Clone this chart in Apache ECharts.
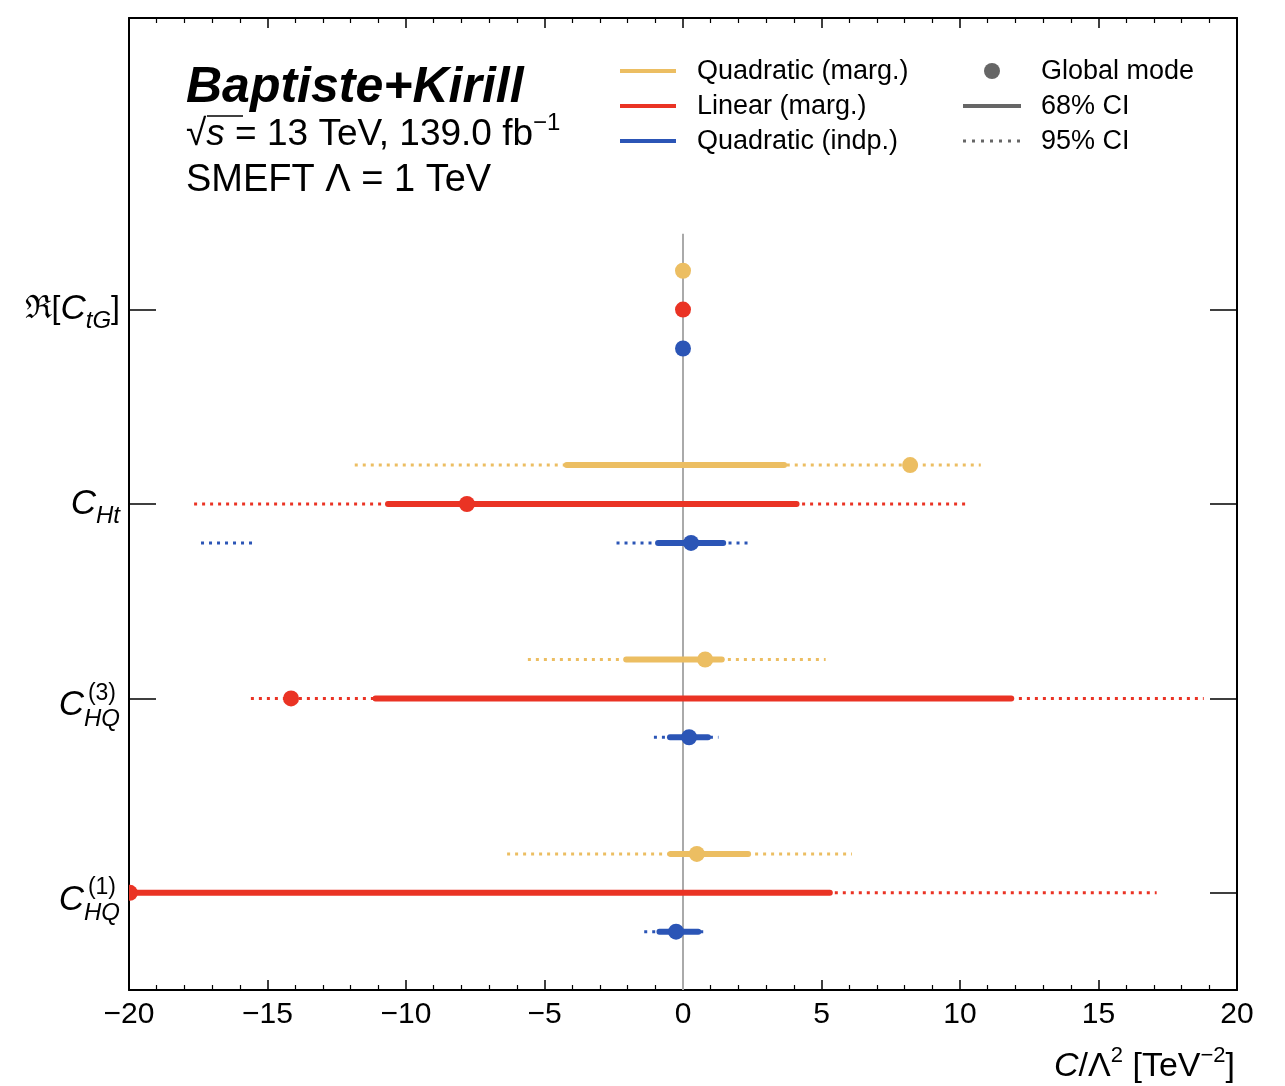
<!DOCTYPE html>
<html>
<head>
<meta charset="utf-8">
<script src="https://cdn.jsdelivr.net/npm/echarts@6/dist/echarts.min.js"></script>
<style>
html, body { margin: 0; background: #fff; }
#chart { width: 1285px; height: 1086px; }
</style>
</head>
<body>
<div id="chart"></div>
<script>
'use strict';

// coefficients, top to bottom
var coeffs = ['CtG', 'CHt', 'CHQ3', 'CHQ1'];

// global modes
var quadMargMode = [0.0, 8.2, 0.8, 0.5];
var linMargMode = [0.0, -7.8, -14.15, -19.97];
var quadIndpMode = [0.0, 0.29, 0.22, -0.25];

// 68% CI  [lo, hi]
var quadMarg68 = [[-0.03, 0.03], [-4.2, 3.65], [-2.05, 1.4], [-0.45, 2.35]];
var linMarg68 = [[-0.03, 0.03], [-10.65, 4.1], [-11.1, 11.85], [-24.0, 5.3]];
var quadIndp68 = [[-0.03, 0.03], [-0.9, 1.45], [-0.47, 0.9], [-0.85, 0.55]];

// 95% CI, can be made of several pieces
var quadMarg95 = [[[-0.06, 0.06]], [[-11.85, 10.75]], [[-5.6, 5.15]], [[-6.35, 6.1]]];
var linMarg95 = [[[-0.06, 0.06]], [[-17.65, 10.35]], [[-15.6, 18.8]], [[-26.0, 17.1]]];
var quadIndp95 = [[[-0.06, 0.06]], [[-17.4, -15.4], [-2.4, 2.4]], [[-1.05, 1.28]], [[-1.4, 0.9]]];

var yellow = '#ecbe62';
var red = '#ea3324';
var blue = '#2b55b6';
var font = '"Liberation Sans", Arial, sans-serif';

// y axis is a category axis, bottom to top, with one empty slot for the legend
var yCats = coeffs.slice().reverse().concat(['']);
function catIndex(i) {
    return coeffs.length - 1 - i;
}

var yLabelText = {
    CtG: '{fr|ℜ[}{c|C}{sub|tG}{fr|]}',
    CHt: '{c|C}{sub|Ht}',
    CHQ3: '{sup|(3)}\n{c2|C}{sub2|HQ}',
    CHQ1: '{sup|(1)}\n{c2|C}{sub2|HQ}'
};

function intervalData(list) {
    var out = [];
    for (var i = 0; i < list.length; i++) {
        out.push([list[i][0], list[i][1], catIndex(i)]);
    }
    return out;
}

function pieceData(list) {
    var out = [];
    for (var i = 0; i < list.length; i++) {
        for (var j = 0; j < list[i].length; j++) {
            out.push([list[i][j][0], list[i][j][1], catIndex(i)]);
        }
    }
    return out;
}

function modeData(list) {
    var out = [];
    for (var i = 0; i < list.length; i++) {
        out.push([list[i], catIndex(i)]);
    }
    return out;
}

function lineSeries(data, color, offset, dotted) {
    return {
        type: 'custom',
        clip: true,
        z: dotted ? 2 : 3,
        data: data,
        encode: { x: [0, 1], y: 2 },
        renderItem: function (params, api) {
            var band = api.size([0, 1])[1];
            var y = api.coord([0, api.value(2)])[1] - offset * band;
            var x0 = api.coord([api.value(0), 0])[0];
            var x1 = api.coord([api.value(1), 0])[0];
            return {
                type: 'line',
                shape: { x1: x0, y1: y, x2: x1, y2: y },
                style: dotted
                    ? { stroke: color, lineWidth: 3, lineDash: [3, 5] }
                    : { stroke: color, lineWidth: 6, lineCap: 'round' }
            };
        }
    };
}

function dotSeries(data, color, offset) {
    return {
        type: 'custom',
        clip: true,
        z: 4,
        data: data,
        encode: { x: 0, y: 1 },
        renderItem: function (params, api) {
            var band = api.size([0, 1])[1];
            var p = api.coord([api.value(0), api.value(1)]);
            return {
                type: 'circle',
                shape: { cx: p[0], cy: p[1] - offset * band, r: 8 },
                style: { fill: color }
            };
        }
    };
}

var models = [
    { color: yellow, offset: 0.2, ci95: quadMarg95, ci68: quadMarg68, mode: quadMargMode },
    { color: red, offset: 0, ci95: linMarg95, ci68: linMarg68, mode: linMargMode },
    { color: blue, offset: -0.2, ci95: quadIndp95, ci68: quadIndp68, mode: quadIndpMode }
];

var series = [{
    // zero line
    type: 'custom',
    z: 1,
    data: [[0, 0, 3]],
    encode: { x: 0, y: [1, 2] },
    renderItem: function (params, api) {
        var band = api.size([0, 1])[1];
        var x = api.coord([api.value(0), 0])[0];
        var yb = api.coord([0, api.value(1)])[1] + band / 2;
        var yt = api.coord([0, api.value(2)])[1] - 0.39 * band;
        return {
            type: 'line',
            shape: { x1: x, y1: yb, x2: x, y2: yt },
            style: { stroke: '#aaaaaa', lineWidth: 2 }
        };
    }
}];

models.forEach(function (m) {
    series.push(lineSeries(pieceData(m.ci95), m.color, m.offset, true));
    series.push(lineSeries(intervalData(m.ci68), m.color, m.offset, false));
    series.push(dotSeries(modeData(m.mode), m.color, m.offset));
});

var xAxisBase = {
    type: 'value',
    min: -20,
    max: 20,
    interval: 5,
    axisLine: { show: true, onZero: false, lineStyle: { color: '#000', width: 2 } },
    axisTick: { show: true, inside: true, length: 10, lineStyle: { color: '#000', width: 1.5 } },
    minorTick: { show: true, splitNumber: 5, length: 5, lineStyle: { color: '#000', width: 1.2 } },
    splitLine: { show: false }
};

var yAxisBase = {
    type: 'category',
    data: yCats,
    boundaryGap: true,
    axisLine: { show: true, onZero: false, lineStyle: { color: '#000', width: 2 } },
    axisTick: {
        show: true,
        inside: true,
        length: 27,
        alignWithLabel: true,
        interval: function (index, value) { return value !== ''; },
        lineStyle: { color: '#000', width: 1.5 }
    },
    splitLine: { show: false }
};

var chart = echarts.init(document.getElementById('chart'));
chart.setOption({
    animation: false,
    backgroundColor: '#fff',
    grid: { left: 129, right: 48, top: 18, bottom: 96 },
    xAxis: [
        Object.assign({}, xAxisBase, {
            position: 'bottom',
            axisLabel: {
                show: true,
                fontFamily: font,
                fontSize: 30,
                color: '#000',
                margin: 10,
                formatter: function (v) { return String(v).replace('-', '\u2212'); }
            }
        }),
        Object.assign({}, xAxisBase, { position: 'top', axisLabel: { show: false } })
    ],
    yAxis: [
        Object.assign({}, yAxisBase, {
            position: 'left',
            axisLabel: {
                show: true,
                interval: 0,
                margin: 9,
                align: 'right',
                color: '#000',
                fontFamily: font,
                formatter: function (v) { return yLabelText[v] || ''; },
                rich: {
                    fr: { fontFamily: font, fontSize: 32, color: '#000', lineHeight: 40 },
                    c: { fontFamily: font, fontStyle: 'italic', fontSize: 35, color: '#000', lineHeight: 40 },
                    sub: { fontFamily: font, fontStyle: 'italic', fontSize: 24, color: '#000', lineHeight: 40, padding: [24, 0, 0, 0] },
                    sup: { fontFamily: font, fontSize: 23, color: '#000', lineHeight: 14, padding: [0, 4, 0, 0] },
                    c2: { fontFamily: font, fontStyle: 'italic', fontSize: 35, color: '#000', lineHeight: 10 },
                    sub2: { fontFamily: font, fontStyle: 'italic', fontSize: 24, color: '#000', lineHeight: 10, padding: [27, 0, 0, 0] }
                }
            }
        }),
        Object.assign({}, yAxisBase, { position: 'right', axisLabel: { show: false } })
    ],
    graphic: [
        { type: 'text', x: 186, y: 88, style: { text: 'Baptiste+Kirill', font: 'italic bold 50px ' + font, fill: '#000', verticalAlign: 'middle' } },
        {
            type: 'text', x: 186, y: 135,
            style: {
                text: '√{it|s} = 13 TeV, 139.0 fb{sup|−1}',
                fontFamily: font, fontSize: 37, fill: '#000', verticalAlign: 'middle',
                rich: {
                    it: { fontFamily: font, fontStyle: 'italic', fontSize: 37 },
                    sup: { fontFamily: font, fontSize: 24, padding: [0, 0, 24, 0], lineHeight: 37 }
                }
            }
        },
        { type: 'line', shape: { x1: 207, y1: 116, x2: 243, y2: 116 }, style: { stroke: '#000', lineWidth: 1.5 } },
        { type: 'text', x: 186, y: 181, style: { text: 'SMEFT Λ = 1 TeV', font: '38px ' + font, fill: '#000', verticalAlign: 'middle' } },

        { type: 'line', shape: { x1: 620, y1: 71, x2: 676, y2: 71 }, style: { stroke: yellow, lineWidth: 4 } },
        { type: 'line', shape: { x1: 620, y1: 106, x2: 676, y2: 106 }, style: { stroke: red, lineWidth: 4 } },
        { type: 'line', shape: { x1: 620, y1: 141, x2: 676, y2: 141 }, style: { stroke: blue, lineWidth: 4 } },
        { type: 'text', x: 697, y: 72, style: { text: 'Quadratic (marg.)', font: '27px ' + font, fill: '#000', verticalAlign: 'middle' } },
        { type: 'text', x: 697, y: 107, style: { text: 'Linear (marg.)', font: '27px ' + font, fill: '#000', verticalAlign: 'middle' } },
        { type: 'text', x: 697, y: 142, style: { text: 'Quadratic (indp.)', font: '27px ' + font, fill: '#000', verticalAlign: 'middle' } },

        { type: 'circle', shape: { cx: 992, cy: 71, r: 8 }, style: { fill: '#666' } },
        { type: 'line', shape: { x1: 963, y1: 106, x2: 1021, y2: 106 }, style: { stroke: '#666', lineWidth: 4 } },
        { type: 'line', shape: { x1: 963, y1: 141, x2: 1021, y2: 141 }, style: { stroke: '#666', lineWidth: 3, lineDash: [3, 6] } },
        { type: 'text', x: 1041, y: 72, style: { text: 'Global mode', font: '27px ' + font, fill: '#000', verticalAlign: 'middle' } },
        { type: 'text', x: 1041, y: 107, style: { text: '68% CI', font: '27px ' + font, fill: '#000', verticalAlign: 'middle' } },
        { type: 'text', x: 1041, y: 142, style: { text: '95% CI', font: '27px ' + font, fill: '#000', verticalAlign: 'middle' } },

        {
            type: 'text', x: 1235, y: 1067,
            style: {
                text: '{it|C}/Λ{sup|2} [TeV{sup|−2}]',
                fontFamily: font, fontSize: 34, fill: '#000', align: 'right', verticalAlign: 'middle',
                rich: {
                    it: { fontFamily: font, fontStyle: 'italic', fontSize: 34 },
                    sup: { fontFamily: font, fontSize: 22, padding: [0, 0, 22, 0], lineHeight: 34 }
                }
            }
        }
    ],
    series: series
});
</script>
</body>
</html>
